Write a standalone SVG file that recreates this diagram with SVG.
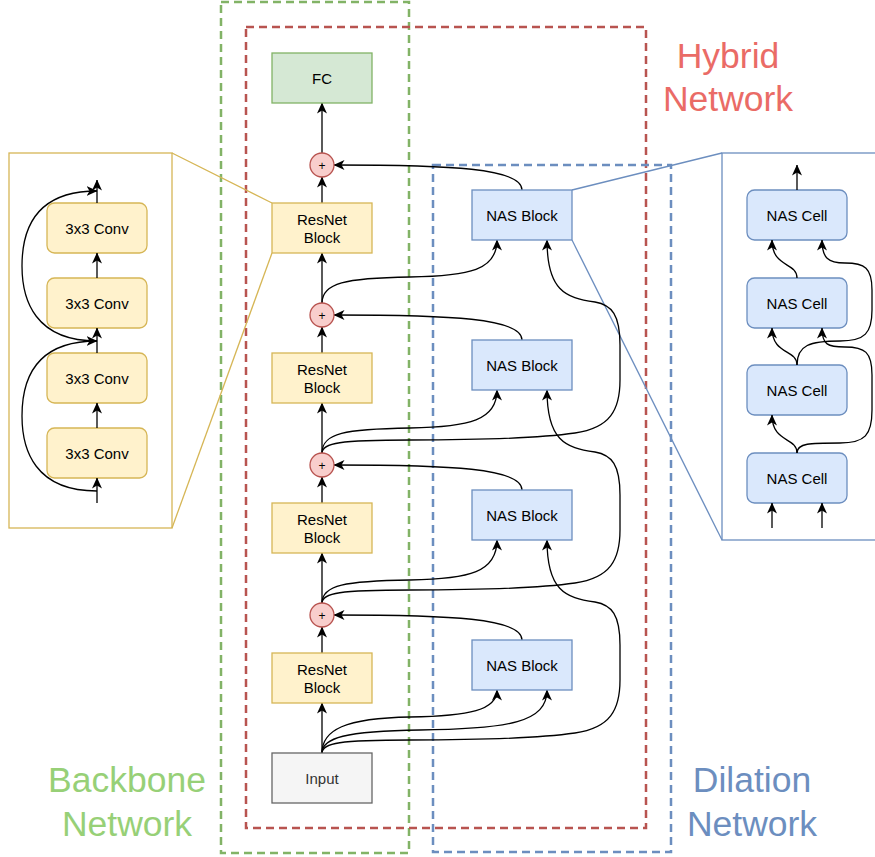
<svg xmlns="http://www.w3.org/2000/svg" width="875" height="857" viewBox="0 0 875 857">
  <style>
    .lbl { font-family: "Liberation Sans", Arial, sans-serif; font-size: 15px; fill: #000; text-anchor: middle; }
    .big { font-family: "Liberation Sans", Arial, sans-serif; font-size: 35.5px; text-anchor: middle; }
    .edge { fill: none; stroke: #000; stroke-width: 1.3; marker-end: url(#arrow); }
    .frame { fill: none; stroke-width: 2.5; stroke-dasharray: 8 5; }
    .resnet { fill: #fff2cc; stroke: #d6b656; stroke-width: 1.3; }
    .nas { fill: #dae8fc; stroke: #6c8ebf; stroke-width: 1.3; }
    .plus { fill: #f8cecc; stroke: #b85450; stroke-width: 1.3; }
  </style>
  <defs>
    <marker id="arrow" viewBox="0 0 11 10" refX="10.5" refY="5" markerWidth="11" markerHeight="10" markerUnits="userSpaceOnUse" orient="auto">
      <path d="M0,0 L11,5 L0,10 L3,5 z" fill="#000"/>
    </marker>
  </defs>
  <rect width="875" height="857" fill="#fff"/>

  <!-- network frames -->
  <g id="frames">
    <rect class="frame" x="221" y="2" width="188" height="851" stroke="#82b366"/>
    <rect class="frame" x="246" y="27" width="400" height="801" stroke="#b85450"/>
    <rect class="frame" x="433" y="165" width="238" height="687" stroke="#6c8ebf"/>
  </g>

  <!-- frame titles -->
  <g id="titles">
    <text class="big" x="728" y="68" fill="#ea6b66">Hybrid</text>
    <text class="big" x="728" y="111" fill="#ea6b66">Network</text>
    <text class="big" x="127" y="792" fill="#97d077">Backbone</text>
    <text class="big" x="127" y="836" fill="#97d077">Network</text>
    <text class="big" x="752" y="792" fill="#6c8ebf">Dilation</text>
    <text class="big" x="752" y="836" fill="#6c8ebf">Network</text>
  </g>

  <!-- detail insets: ResNet block (left), NAS block (right) -->
  <g id="resnet-detail">
    <rect x="9" y="153" width="163" height="375" fill="#fff" stroke="#d6b656" stroke-width="1.3"/>
    <line x1="172" y1="153" x2="272" y2="203" stroke="#d6b656" stroke-width="1.3"/>
    <line x1="172" y1="528" x2="272" y2="253" stroke="#d6b656" stroke-width="1.3"/>
    <g id="conv1"><rect class="resnet" x="47" y="203" width="100" height="50" rx="7.5"/><text class="lbl" x="97" y="233.5">3x3 Conv</text></g>
    <g id="conv2"><rect class="resnet" x="47" y="278" width="100" height="50" rx="7.5"/><text class="lbl" x="97" y="308.5">3x3 Conv</text></g>
    <g id="conv3"><rect class="resnet" x="47" y="353" width="100" height="50" rx="7.5"/><text class="lbl" x="97" y="383.5">3x3 Conv</text></g>
    <g id="conv4"><rect class="resnet" x="47" y="428" width="100" height="50" rx="7.5"/><text class="lbl" x="97" y="458.5">3x3 Conv</text></g>
    <g id="resnet-detail-edges">
      <path class="edge" d="M97,503 L97,478"/>
      <path class="edge" d="M97,428 L97,403"/>
      <path class="edge" d="M97,353 L97,328"/>
      <path class="edge" d="M97,278 L97,253"/>
      <path class="edge" d="M97,203 L97,180"/>
      <path class="edge" d="M97,491 C35,491 22,450 22,416 C22,380 35,341 97,341"/>
      <path class="edge" d="M97,341 C35,341 22,300 22,266 C22,230 35,191 97,191"/>
    </g>
  </g>

  <g id="nas-detail">
    <rect x="722" y="153" width="160" height="387" fill="#fff" stroke="#6c8ebf" stroke-width="1.3"/>
    <line x1="572" y1="190" x2="722" y2="153" stroke="#6c8ebf" stroke-width="1.3"/>
    <line x1="572" y1="240" x2="722" y2="540" stroke="#6c8ebf" stroke-width="1.3"/>
    <g id="cell4"><rect class="nas" x="747" y="190" width="100" height="50" rx="7.5"/><text class="lbl" x="797" y="220.5">NAS Cell</text></g>
    <g id="cell3"><rect class="nas" x="747" y="278" width="100" height="50" rx="7.5"/><text class="lbl" x="797" y="308.5">NAS Cell</text></g>
    <g id="cell2"><rect class="nas" x="747" y="365" width="100" height="50" rx="7.5"/><text class="lbl" x="797" y="395.5">NAS Cell</text></g>
    <g id="cell1"><rect class="nas" x="747" y="453" width="100" height="50" rx="7.5"/><text class="lbl" x="797" y="483.5">NAS Cell</text></g>
    <g id="nas-detail-edges">
      <path class="edge" d="M797,190 L797,165"/>
      <path class="edge" d="M772,528 L772,503"/>
      <path class="edge" d="M822,528 L822,503"/>
      <path class="edge" d="M797,453 C797,437 772,443 772,415"/>
      <path class="edge" d="M797,453 C797,443 810,443 840,443 C865,443 872,435 872,410 L872,375 C872,352 865,347 845,347 C828,347 822,345 822,328"/>
      <path class="edge" d="M797,365 C797,349 772,355 772,328"/>
      <path class="edge" d="M797,365 C797,345 810,341 840,341 C865,341 872,333 872,310 L872,290 C872,268 865,263 845,263 C828,263 822,258 822,240"/>
      <path class="edge" d="M797,278 C797,262 772,268 772,240"/>
    </g>
  </g>

  <!-- main graph connectors -->
  <g id="connectors">
    <path class="edge" d="M322,153 L322,103"/>
    <path class="edge" d="M322,203 L322,177"/>
    <path class="edge" d="M322,303 L322,253"/>
    <path class="edge" d="M322,353 L322,327"/>
    <path class="edge" d="M322,453 L322,403"/>
    <path class="edge" d="M322,503 L322,477"/>
    <path class="edge" d="M322,603 L322,553"/>
    <path class="edge" d="M322,653 L322,627"/>
    <path class="edge" d="M322,753 L322,703"/>

    <!-- NAS block outputs into the sum nodes -->
    <path class="edge" d="M522,190 C522,168 450,165 334,165"/>
    <path class="edge" d="M522,340 C522,318 450,315 334,315"/>
    <path class="edge" d="M522,490 C522,468 450,465 334,465"/>
    <path class="edge" d="M522,640 C522,618 450,615 334,615"/>

    <!-- short skips into NAS block left inputs -->
    <path class="edge" d="M322,303 C322,283 345,278 410,277 C470,276 497,270 497,240"/>
    <path class="edge" d="M322,453 C322,433 345,429 410,428 C470,427 497,420 497,390"/>
    <path class="edge" d="M322,603 C322,585 345,581 410,580 C470,579 497,572 497,540"/>
    <path class="edge" d="M322,753 C322,730 345,718 410,717 C470,716 497,710 497,690"/>
    <path class="edge" d="M322,753 C322,738 345,731 420,730 C510,729 547,722 547,690"/>

    <!-- long skips into NAS block right inputs -->
    <path class="edge" d="M322,453 C322,443 340,440 410,440 C480,440 540,438 575,433 C610,428 620,410 620,380 L620,345 C620,315 612,305 595,302 C565,298 547,290 547,240"/>
    <path class="edge" d="M322,603 C322,593 340,590 410,590 C480,590 540,588 575,583 C610,578 620,560 620,530 L620,495 C620,465 612,455 595,452 C565,448 547,440 547,390"/>
    <path class="edge" d="M322,753 C322,743 340,740 410,740 C480,740 540,738 575,733 C610,728 620,710 620,680 L620,645 C620,615 612,605 595,602 C565,598 547,590 547,540"/>
  </g>

  <!-- backbone column -->
  <g id="fc"><rect x="272" y="53" width="100" height="50" fill="#d5e8d4" stroke="#82b366" stroke-width="1.3"/><text class="lbl" x="322" y="83.5">FC</text></g>
  <g id="sum1"><circle class="plus" cx="322" cy="165" r="12"/><text class="lbl" x="322" y="169.5" font-size="12px" style="font-size:12px">+</text></g>
  <g id="resnet1"><rect class="resnet" x="272" y="203" width="100" height="50"/><text class="lbl" x="322" y="225">ResNet</text><text class="lbl" x="322" y="243">Block</text></g>
  <g id="sum2"><circle class="plus" cx="322" cy="315" r="12"/><text class="lbl" x="322" y="319.5" style="font-size:12px">+</text></g>
  <g id="resnet2"><rect class="resnet" x="272" y="353" width="100" height="50"/><text class="lbl" x="322" y="375">ResNet</text><text class="lbl" x="322" y="393">Block</text></g>
  <g id="sum3"><circle class="plus" cx="322" cy="465" r="12"/><text class="lbl" x="322" y="469.5" style="font-size:12px">+</text></g>
  <g id="resnet3"><rect class="resnet" x="272" y="503" width="100" height="50"/><text class="lbl" x="322" y="525">ResNet</text><text class="lbl" x="322" y="543">Block</text></g>
  <g id="sum4"><circle class="plus" cx="322" cy="615" r="12"/><text class="lbl" x="322" y="619.5" style="font-size:12px">+</text></g>
  <g id="resnet4"><rect class="resnet" x="272" y="653" width="100" height="50"/><text class="lbl" x="322" y="675">ResNet</text><text class="lbl" x="322" y="693">Block</text></g>
  <g id="input"><rect x="272" y="753" width="100" height="50" fill="#f5f5f5" stroke="#666666" stroke-width="1.3"/><text class="lbl" x="322" y="783.5" style="fill:#333333">Input</text></g>

  <!-- dilation column -->
  <g id="nas1"><rect class="nas" x="472" y="190" width="100" height="50"/><text class="lbl" x="522" y="220.5">NAS Block</text></g>
  <g id="nas2"><rect class="nas" x="472" y="340" width="100" height="50"/><text class="lbl" x="522" y="370.5">NAS Block</text></g>
  <g id="nas3"><rect class="nas" x="472" y="490" width="100" height="50"/><text class="lbl" x="522" y="520.5">NAS Block</text></g>
  <g id="nas4"><rect class="nas" x="472" y="640" width="100" height="50"/><text class="lbl" x="522" y="670.5">NAS Block</text></g>
</svg>
